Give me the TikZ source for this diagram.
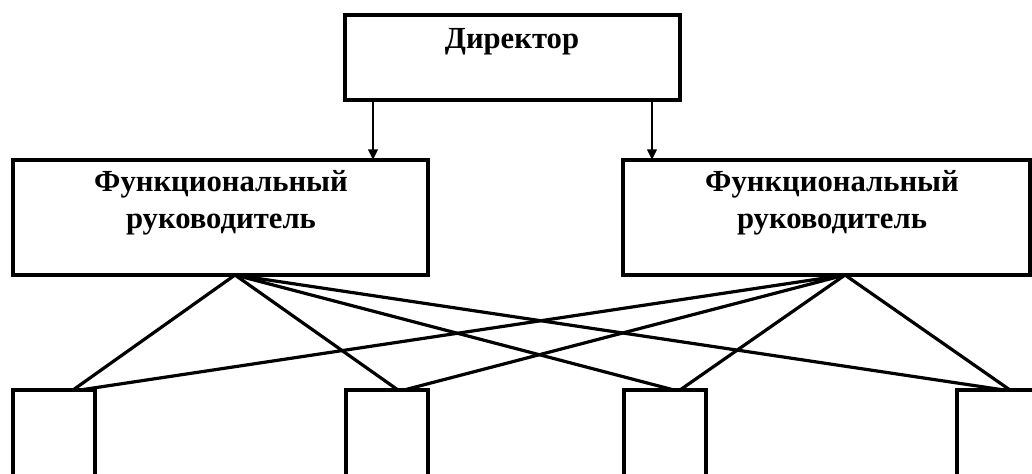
\documentclass[tikz,border=0pt]{standalone}
\usepackage{fontspec}
\setmainfont{Liberation Serif}
\usetikzlibrary{arrows.meta,calc}
\begin{document}
\begin{tikzpicture}[x=0.75pt,y=-0.75pt,
  box/.style={draw,line width=2.6pt,inner sep=0pt},
  lbl/.style={font=\bfseries\fontsize{23}{28}\selectfont,align=center,inner sep=0pt},
  link/.style={line width=2.4pt},
  arr/.style={line width=2.2pt,-{Triangle[length=8pt,width=7pt]}}]
\useasboundingbox (0,0) rectangle (1032,474);
\clip (0,0) rectangle (1032,474);
% boxes
\draw[box] (345,15) rectangle (680,100);
\node[lbl] (dir) at (512,42) {Директор};
\draw[box] (13,160) rectangle (428,275);
\node[lbl] (fl) at (221,203) {Функциональный\\руководитель};
\draw[box] (623,160) rectangle (1030,275);
\node[lbl] (fr) at (832,203) {Функциональный\\руководитель};
\draw[box] (13,390) rectangle (95,520);
\draw[box] (346,390) rectangle (428,520);
\draw[box] (624,390) rectangle (706,520);
\draw[box] (957,390) rectangle (1040,520);
% coordinates
\coordinate (d1) at (373,100);
\coordinate (d2) at (652,100);
\coordinate (fl1) at (373,160);
\coordinate (fr1) at (652,160);
\coordinate (ls) at (235,275);
\coordinate (rs) at (845,275);
\coordinate (b1a) at (73,390);
\coordinate (b1b) at (80,390);
\coordinate (b2a) at (398,390);
\coordinate (b2b) at (404,390);
\coordinate (b3a) at (674,390);
\coordinate (b3b) at (680,390);
\coordinate (b4a) at (1004,390);
\coordinate (b4b) at (1010,390);
% arrows
\draw[arr] (d1) -- (fl1);
\draw[arr] (d2) -- (fr1);
% links
\draw[link] (ls) -- (b1a);
\draw[link] (ls) -- (b2a);
\draw[link] (ls) -- (b3a);
\draw[link] (ls) -- (b4a);
\draw[link] (rs) -- (b1b);
\draw[link] (rs) -- (b2b);
\draw[link] (rs) -- (b3b);
\draw[link] (rs) -- (b4b);
\end{tikzpicture}
\end{document}
